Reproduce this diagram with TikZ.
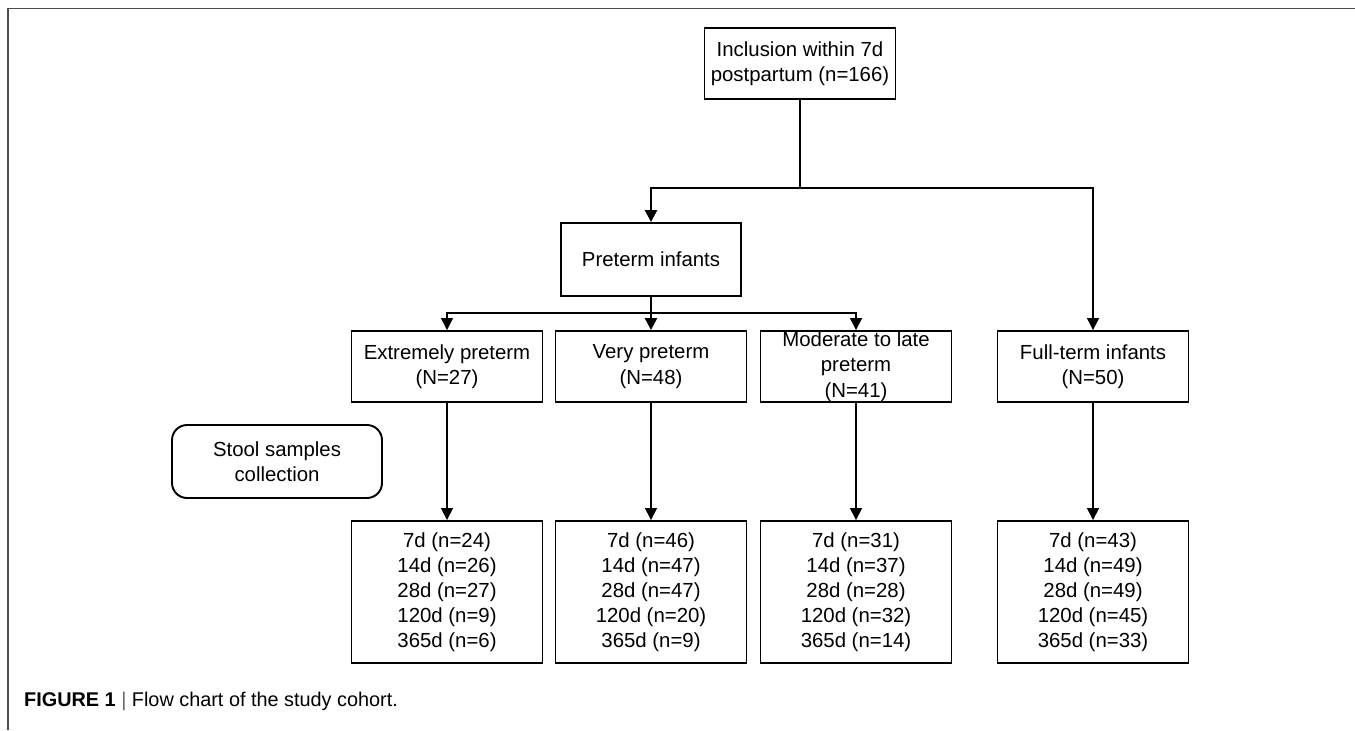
\documentclass[tikz,border=0pt]{standalone}
\usepackage{fontspec}
\setmainfont{Liberation Sans}
\usetikzlibrary{arrows.meta}

\begin{document}
\begin{tikzpicture}[
        x=0.02cm, y=-0.02cm,
        bx/.style={draw, line width=1.1pt, align=center, inner sep=0pt,
          minimum width=3.82cm, minimum height=1.42cm,
          font=\fontsize{11.6}{14.4}\selectfont},
        smp/.style={bx, minimum height=2.84cm, font=\fontsize{11.6}{14.2}\selectfont},
        ed/.style={line width=0.85pt, -{Triangle[width=0.24cm,length=0.24cm]}},
        ted/.style={ed, line width=1.4pt}
      ]
      \useasboundingbox (0,0) rectangle (1355,730);
      % frame of the figure
      \draw[line width=1.1pt, black!70] (8,730) -- (8,8.5) -- (1355,8.5);
      \node[anchor=west, font=\fontsize{11.3}{13}\selectfont] (cap) at (18,701)
        {\textbf{FIGURE 1} {\color{black!60}|} Flow chart of the study cohort.};

      \node[bx] (incl) at (800,63.5) {Inclusion within 7d\\postpartum (n=166)};
      \node[bx, minimum width=3.6cm, minimum height=1.46cm] (pre) at (651,259.5) {Preterm infants};
      \node[bx] (ext) at (447,366.5) {Extremely preterm\\(N=27)};
      \node[bx] (very) at (651,366.5) {Very preterm\\(N=48)};
      \node[bx] (mod) at (856,366.5) {Moderate to late\\preterm\\(N=41)};
      \node[bx] (full) at (1093,366.5) {Full-term infants\\(N=50)};
      \node[bx, rounded corners=0.3cm, minimum width=4.2cm, minimum height=1.46cm]
        (stool) at (277,461.5) {Stool samples\\collection};

      \node[smp] (sext) at (447,592) {7d (n=24)\\14d (n=26)\\28d (n=27)\\120d (n=9)\\365d (n=6)};
      \node[smp] (svery) at (651,592) {7d (n=46)\\14d (n=47)\\28d (n=47)\\120d (n=20)\\365d (n=9)};
      \node[smp] (smod) at (856,592) {7d (n=31)\\14d (n=37)\\28d (n=28)\\120d (n=32)\\365d (n=14)};
      \node[smp] (sfull) at (1093,592) {7d (n=43)\\14d (n=49)\\28d (n=49)\\120d (n=45)\\365d (n=33)};

      \coordinate (split) at (800,188);
      \coordinate (br) at (651,313);

      \draw[ted] (incl) -- (split) -| (pre);
      \draw[ed] (split) -| (full);
      \draw[line width=1.4pt] (pre) -- (br);
      \draw[ted] (br) -- (very);
      \draw[ed] (br) -| (ext);
      \draw[ed] (br) -| (mod);
      \foreach \a/\b in {ext/sext, very/svery, mod/smod, full/sfull} {
        \draw[ed] (\a) -- (\b);
      }
    \end{tikzpicture}
\end{document}
